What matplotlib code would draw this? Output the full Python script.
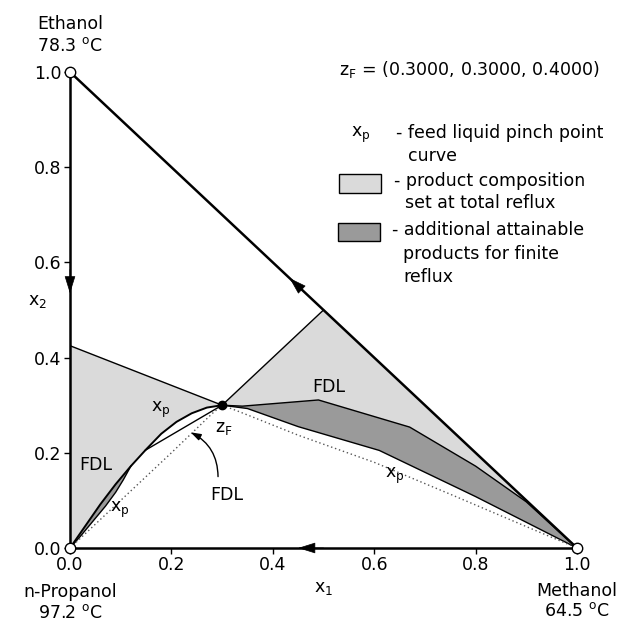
import matplotlib
matplotlib.use("Agg")
import matplotlib.pyplot as plt
from matplotlib.patches import Polygon, Rectangle

plt.rcParams['font.family'] = ['DejaVu Sans']
plt.rcParams['mathtext.fontset'] = 'dejavusans'

# Feed composition (methanol, ethanol, n-propanol)
zF = (0.3000, 0.3000, 0.4000)

# Feed-liquid pinch point curve, upper branch (solid) from pure n-propanol to zF
pinch_up_x = [0.0, 0.03, 0.06, 0.09, 0.12, 0.15, 0.18, 0.21, 0.24, 0.27, 0.30]
pinch_up_y = [0.0, 0.046, 0.092, 0.134, 0.172, 0.207, 0.240, 0.265, 0.283, 0.295, 0.30]

# Pinch point curve, lower branch (dotted) n-propanol -> zF -> methanol
pinch_lo_left_x = [0.0, 0.10, 0.20, 0.28, 0.30]
pinch_lo_left_y = [0.0, 0.100, 0.200, 0.282, 0.30]
pinch_lo_right_x = [0.30, 0.33, 0.45, 0.60, 0.75, 0.90, 1.0]
pinch_lo_right_y = [0.30, 0.288, 0.237, 0.180, 0.113, 0.045, 0.0]

# Total reflux product region: left lobe corner and right lobe corner
tr_left_top = 0.425
tr_right_corner = (0.50, 0.50)

# Finite reflux attainable region, left sliver (lower edge)
fdl_left_x = [0.0, 0.02, 0.045, 0.07, 0.09, 0.105, 0.12]
fdl_left_y = [0.0, 0.024, 0.056, 0.088, 0.117, 0.143, 0.172]

# Straight FDL from zF back to the upper pinch branch
fdl_mid_x = [0.148, 0.30]
fdl_mid_y = [0.205, 0.30]

# Finite reflux attainable region, right lobe (upper and lower edges)
fdl_right_up_x = [0.30, 0.34, 0.49, 0.67, 0.80, 0.90, 1.0]
fdl_right_up_y = [0.30, 0.298, 0.311, 0.254, 0.172, 0.097, 0.0]
fdl_right_lo_x = [0.30, 0.35, 0.45, 0.61, 0.80, 1.0]
fdl_right_lo_y = [0.30, 0.293, 0.255, 0.205, 0.108, 0.0]

ticks = [0.0, 0.2, 0.4, 0.6, 0.8, 1.0]

LIGHT = '#dadada'
DARK = '#9a9a9a'

fig = plt.figure(figsize=(6.24, 6.23), dpi=100)
ax = fig.add_axes([70 / 624, 75 / 623, 507 / 624, 476 / 623])
ax.set_xlim(0, 1)
ax.set_ylim(0, 1)
for s in ['top', 'right']:
    ax.spines[s].set_visible(False)
for s in ['left', 'bottom']:
    ax.spines[s].set_linewidth(1.8)
ax.set_xticks(ticks)
ax.set_yticks(ticks)
ax.set_xticklabels([f"{t:.1f}" for t in ticks])
ax.set_yticklabels([f"{t:.1f}" for t in ticks])
ax.tick_params(direction='out', length=4, width=1, labelsize=12.5, pad=2)

# light region: left lobe
left_poly = [(0, 0), (0, tr_left_top), (zF[0], zF[1])] + \
    list(zip(pinch_up_x[::-1], pinch_up_y[::-1]))
ax.add_patch(Polygon(left_poly, closed=True, facecolor=LIGHT, edgecolor='none'))
# light region: right lobe
right_poly = [(zF[0], zF[1]), tr_right_corner, (1, 0)] + \
    list(zip(fdl_right_up_x[::-1], fdl_right_up_y[::-1]))
ax.add_patch(Polygon(right_poly, closed=True, facecolor=LIGHT, edgecolor='none'))

# dark regions
dark_left = list(zip(fdl_left_x, fdl_left_y)) + \
    [(x, y) for x, y in zip(pinch_up_x[::-1], pinch_up_y[::-1]) if x <= fdl_left_x[-1]]
ax.add_patch(Polygon(dark_left, closed=True, facecolor=DARK, edgecolor='none'))
dark_right = list(zip(fdl_right_up_x, fdl_right_up_y)) + \
    list(zip(fdl_right_lo_x[::-1], fdl_right_lo_y[::-1]))
ax.add_patch(Polygon(dark_right, closed=True, facecolor=DARK, edgecolor='none'))

# boundaries
lw = 1.0
ax.plot([0, zF[0]], [tr_left_top, zF[1]], color='k', lw=lw)
ax.plot([zF[0], tr_right_corner[0]], [zF[1], tr_right_corner[1]], color='k', lw=lw)
ax.plot(pinch_up_x, pinch_up_y, color='k', lw=1.4)
ax.plot(fdl_left_x, fdl_left_y, color='k', lw=lw)
ax.plot(fdl_mid_x, fdl_mid_y, color='k', lw=lw)
ax.plot(fdl_right_up_x, fdl_right_up_y, color='k', lw=lw)
ax.plot(fdl_right_lo_x, fdl_right_lo_y, color='k', lw=lw)
ax.plot(pinch_lo_left_x, pinch_lo_left_y, color='#555555', lw=1.0, ls=(0, (1, 2)))
ax.plot(pinch_lo_right_x, pinch_lo_right_y, color='#555555', lw=1.0, ls=(0, (1, 2)))

# hypotenuse (binary ethanol-methanol edge)
ax.plot([0, 1], [1, 0], color='k', lw=1.8, clip_on=False)

# direction arrows along the triangle edges
arrow_kw = dict(arrowstyle='-|>,head_length=0.8,head_width=0.25', color='k', lw=0.5,
                shrinkA=0, shrinkB=0, mutation_scale=14)
ax.annotate('', xy=(0, 0.535), xytext=(0, 0.585), arrowprops=arrow_kw, annotation_clip=False)
ax.annotate('', xy=(0.433, 0.567), xytext=(0.47, 0.53), arrowprops=arrow_kw)
ax.annotate('', xy=(0.45, 0), xytext=(0.50, 0), arrowprops=arrow_kw, annotation_clip=False)

# pure component vertices and feed point
ax.plot([0, 1, 0], [1, 0, 0], 'o', ms=7.5, mfc='white', mec='k', mew=1.0, clip_on=False, zorder=5)
ax.plot([zF[0]], [zF[1]], 'o', ms=6, color='k', zorder=6)

# curved arrow to the middle FDL
ax.annotate('', xy=(0.238, 0.243), xytext=(0.292, 0.15),
            arrowprops=dict(arrowstyle='-|>,head_length=0.6,head_width=0.2', color='k',
                            lw=1.0, connectionstyle='arc3,rad=0.3', shrinkA=0, shrinkB=0))

fs = 12.5
ax.text(0.178, 0.29, r'x$_{\rm p}$', fontsize=fs, ha='center', va='center')
ax.text(0.099, 0.08, r'x$_{\rm p}$', fontsize=fs, ha='center', va='center')
ax.text(0.641, 0.152, r'x$_{\rm p}$', fontsize=fs, ha='center', va='center')
ax.text(0.05, 0.175, 'FDL', fontsize=fs, ha='center', va='center')
ax.text(0.51, 0.338, 'FDL', fontsize=fs, ha='center', va='center')
ax.text(0.31, 0.111, 'FDL', fontsize=fs, ha='center', va='center')
ax.text(0.303, 0.252, r'z$_{\rm F}$', fontsize=fs, ha='center', va='center')

ax.set_xlabel(r'x$_{1}$', fontsize=fs)
ax.xaxis.set_label_coords(0.5, -0.065)
ax.set_ylabel(r'x$_{2}$', fontsize=fs, rotation=0)
ax.yaxis.set_label_coords(-0.065, 0.50)

# vertex labels
ax.text(0.0, 1.10, 'Ethanol', fontsize=fs, ha='center', va='center', clip_on=False)
ax.text(0.0, 1.055, r'78.3 $^{\rm o}$C', fontsize=fs, ha='center', va='center', clip_on=False)
ax.text(0.0, -0.092, 'n-Propanol', fontsize=fs, ha='center', va='center', clip_on=False)
ax.text(0.0, -0.136, r'97.2 $^{\rm o}$C', fontsize=fs, ha='center', va='center', clip_on=False)
ax.text(1.0, -0.09, 'Methanol', fontsize=fs, ha='center', va='center', clip_on=False)
ax.text(1.0, -0.132, r'64.5 $^{\rm o}$C', fontsize=fs, ha='center', va='center', clip_on=False)

# feed composition and key
def px(xp, yp):
    return (xp - 70) / 507, (548 - yp) / 476

ax.text(*px(339, 70), r'z$_{\rm F}$ = (%.4f, %.4f, %.4f)' % zF, fontsize=fs,
        ha='left', va='center', clip_on=False)
ax.text(*px(361, 135), r'x$_{\rm p}$', fontsize=fs, ha='center', va='center')
ax.text(*px(396, 133), '- feed liquid pinch point', fontsize=fs, ha='left', va='center')
ax.text(*px(408, 156), 'curve', fontsize=fs, ha='left', va='center')
x0, y0 = px(339, 193)
x1, y1 = px(381, 174)
ax.add_patch(Rectangle((x0, y0), x1 - x0, y1 - y0, facecolor=LIGHT, edgecolor='k', lw=1.0))
ax.text(*px(394, 181), '- product composition', fontsize=fs, ha='left', va='center')
ax.text(*px(405, 203), 'set at total reflux', fontsize=fs, ha='left', va='center')
x0, y0 = px(338, 241)
x1, y1 = px(380, 223)
ax.add_patch(Rectangle((x0, y0), x1 - x0, y1 - y0, facecolor=DARK, edgecolor='k', lw=1.0))
ax.text(*px(392, 230), '- additional attainable', fontsize=fs, ha='left', va='center')
ax.text(*px(403, 254), 'products for finite', fontsize=fs, ha='left', va='center')
ax.text(*px(403, 277), 'reflux', fontsize=fs, ha='left', va='center')

fig.savefig('out.png', dpi=100)
